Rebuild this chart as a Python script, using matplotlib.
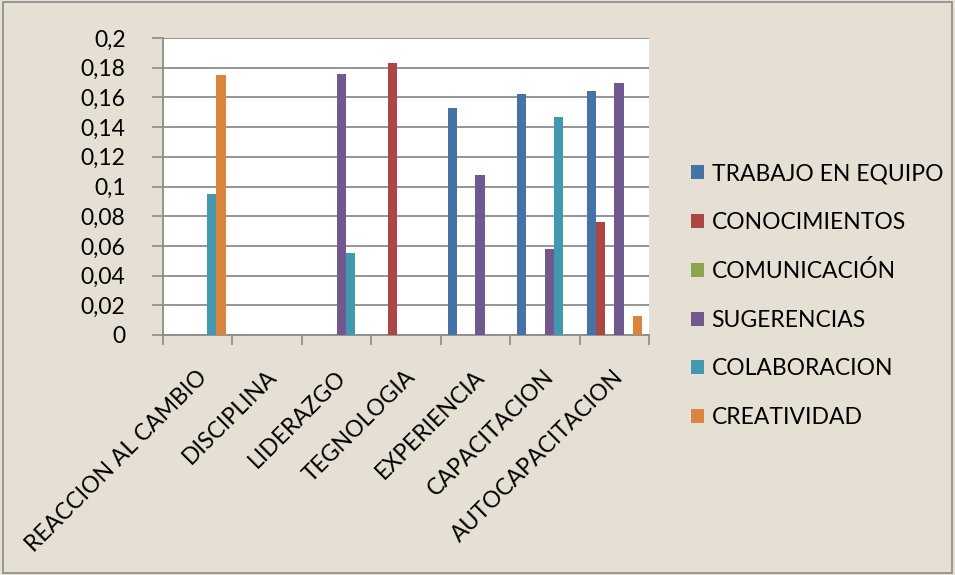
import numpy as np
import matplotlib.pyplot as plt
from matplotlib.patches import Rectangle

categories = ['REACCION AL CAMBIO', 'DISCIPLINA', 'LIDERAZGO', 'TEGNOLOGIA',
              'EXPERIENCIA', 'CAPACITACION', 'AUTOCAPACITACION']

trabajo = [0, 0, 0, 0, 0.153, 0.162, 0.164]
conocimientos = [0, 0, 0, 0.183, 0, 0, 0.076]
comunicacion = [0, 0, 0, 0, 0, 0, 0]
sugerencias = [0, 0, 0.176, 0, 0.108, 0.058, 0.170]
colaboracion = [0.095, 0, 0.055, 0, 0, 0.147, 0]
creatividad = [0.175, 0, 0, 0, 0, 0, 0.013]

series_names = ['TRABAJO EN EQUIPO', 'CONOCIMIENTOS', 'COMUNICACIÓN',
                'SUGERENCIAS', 'COLABORACION', 'CREATIVIDAD']
colors = ['#4572A7', '#AA4643', '#89A54E', '#71588F', '#4198AF', '#DB843D']

plt.rcParams['font.family'] = ['Lato', 'DejaVu Sans']
fs = 16.5

fig = plt.figure(figsize=(9.55, 5.75), dpi=100)
fig.patch.set_facecolor('#E6DFD3')
fig.patches.append(Rectangle((0.003, 0.003), 0.994, 0.994, transform=fig.transFigure,
                             fill=False, edgecolor='#8A8A8A', linewidth=1.2))

ax = fig.add_axes([0.1707, 0.4174, 0.5089, 0.5165])
ax.set_facecolor('white')

data = [trabajo, conocimientos, comunicacion, sugerencias, colaboracion, creatividad]
n = len(data)
x = np.arange(len(categories))
width = 1 / (n + 1.5)
for i, (vals, name, c) in enumerate(zip(data, series_names, colors)):
    offs = -0.5 + 0.75 * width + (i + 0.5) * width
    ax.bar(x + offs, vals, width, color=c, label=name, zorder=3)

ax.set_xlim(-0.5, len(categories) - 0.5)
ax.set_ylim(0, 0.2)
yt = np.arange(0, 0.2001, 0.02)
ax.set_yticks(yt)
ax.set_yticklabels([('%g' % round(v, 2)).replace('.', ',') for v in yt], fontsize=fs)
ax.yaxis.grid(True, color='#8C8C8C', linewidth=1.3, zorder=0)

ax.set_xticks(np.arange(-0.5, len(categories)))
ax.set_xticklabels([])
ax.tick_params(axis='x', length=7, width=1.2, color='#8C8C8C', direction='out')
ax.tick_params(axis='y', length=8, width=1.2, color='#8C8C8C', direction='out', pad=19)
for i, lab in enumerate(categories):
    ax.text(i - 0.02, -0.021, lab, rotation=45, ha='right', va='top',
            rotation_mode='anchor', fontsize=fs)

for s in ['top', 'right']:
    ax.spines[s].set_visible(False)
for s in ['left', 'bottom']:
    ax.spines[s].set_color('#8C8C8C')
    ax.spines[s].set_linewidth(1.3)

handles, labels = ax.get_legend_handles_labels()
fig.legend(handles, labels, loc='center left', bbox_to_anchor=(0.702, 0.486),
           frameon=False, fontsize=fs, handlelength=0.55, handleheight=0.55,
           handletextpad=0.35, labelspacing=1.2)

fig.savefig('out.png', dpi=100, facecolor=fig.get_facecolor())
